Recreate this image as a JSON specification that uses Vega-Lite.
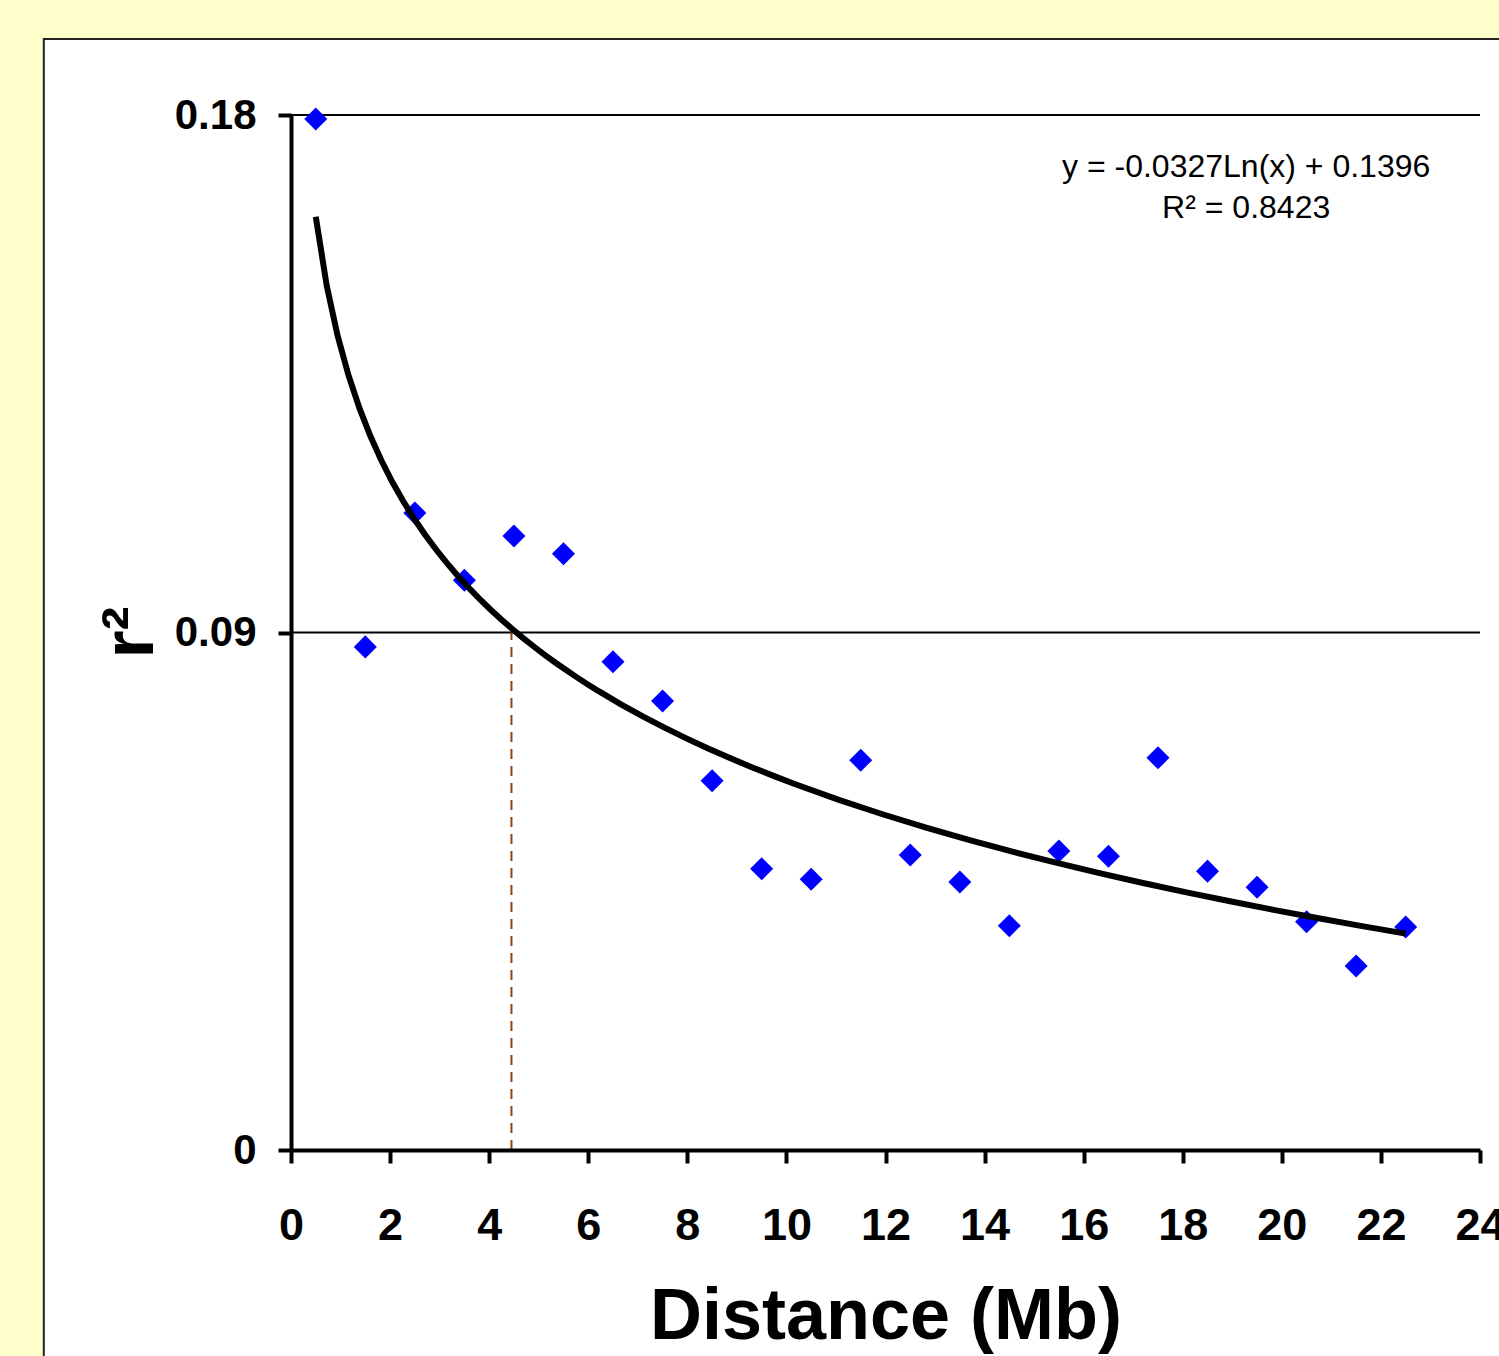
{
  "$schema": "https://vega.github.io/schema/vega-lite/v6.json",
  "autosize": {"type": "none"},
  "width": 1189,
  "height": 1035,
  "padding": {"left": 291, "top": 115, "right": 19, "bottom": 206},
  "background": "#FFFFCC",
  "config": {
    "view": {"stroke": null},
    "font": "Liberation Sans",
    "axis": {
      "grid": false,
      "domainColor": "black", "domainWidth": 4,
      "tickColor": "black", "tickWidth": 4, "tickSize": 13,
      "labelFont": "Liberation Sans", "labelFontWeight": "bold", "labelColor": "black",
      "labelFlush": false, "labelOverlap": false,
      "titleFont": "Liberation Sans", "titleFontWeight": "bold", "titleColor": "black"
    },
    "axisX": {
      "labelFontSize": 45, "labelPadding": 40,
      "titleFontSize": 72, "titleBaseline": "alphabetic", "titleY": 188
    },
    "axisY": {
      "labelFontSize": 42, "labelPadding": 22,
      "titleFontSize": 72, "titleAngle": -90, "titleAlign": "center", "titleBaseline": "alphabetic",
      "titleX": -139, "titleY": 517
    }
  },
  "datasets": {
    "pts": [
      {"dist": 0.5, "r2": 0.1793},
      {"dist": 1.5, "r2": 0.0875},
      {"dist": 2.5, "r2": 0.1108},
      {"dist": 3.5, "r2": 0.0991},
      {"dist": 4.5, "r2": 0.1068},
      {"dist": 5.5, "r2": 0.1037},
      {"dist": 6.5, "r2": 0.0849},
      {"dist": 7.5, "r2": 0.0781},
      {"dist": 8.5, "r2": 0.0642},
      {"dist": 9.5, "r2": 0.0489},
      {"dist": 10.5, "r2": 0.0471},
      {"dist": 11.5, "r2": 0.0678},
      {"dist": 12.5, "r2": 0.0513},
      {"dist": 13.5, "r2": 0.0466},
      {"dist": 14.5, "r2": 0.0390},
      {"dist": 15.5, "r2": 0.0520},
      {"dist": 16.5, "r2": 0.0511},
      {"dist": 17.5, "r2": 0.0682},
      {"dist": 18.5, "r2": 0.0485},
      {"dist": 19.5, "r2": 0.0457},
      {"dist": 20.5, "r2": 0.0397},
      {"dist": 21.5, "r2": 0.0320},
      {"dist": 22.5, "r2": 0.0388}
    ],
    "grid": [{"g": 0.09}, {"g": 0.18}],
    "cut": [{"d": 4.45, "lo": 0, "hi": 0.09}],
    "one": [{}]
  },
  "layer": [
    {
      "data": {"name": "one"},
      "mark": {"type": "rect", "fill": "white", "stroke": "#222222", "strokeWidth": 2},
      "encoding": {
        "x": {"datum": -4.99, "type": "quantitative", "title": "Distance (Mb)", "scale": {"domain": [0, 24], "nice": false, "zero": false}, "axis": {"values": [0, 2, 4, 6, 8, 10, 12, 14, 16, 18, 20, 22, 24], "zindex": 1}},
        "x2": {"datum": 27},
        "y": {"datum": 0.1932, "type": "quantitative", "title": "r²", "scale": {"domain": [0, 0.18], "nice": false, "zero": false}, "axis": {"values": [0, 0.09, 0.18], "format": "~g", "zindex": 1}},
        "y2": {"datum": -0.06}
      }
    },
    {
      "data": {"name": "grid"},
      "mark": {"type": "rule", "color": "black", "strokeWidth": 2},
      "encoding": {
        "y": {"field": "g", "type": "quantitative", "title": "r²", "scale": {"domain": [0, 0.18], "nice": false, "zero": false}, "axis": {"values": [0, 0.09, 0.18], "format": "~g", "zindex": 1}}
      }
    },
    {
      "data": {"name": "cut"},
      "mark": {"type": "rule", "color": "#8B4513", "strokeWidth": 2, "strokeDash": [10, 7]},
      "encoding": {
        "x": {"field": "d", "type": "quantitative", "title": "Distance (Mb)", "scale": {"domain": [0, 24], "nice": false, "zero": false}, "axis": {"values": [0, 2, 4, 6, 8, 10, 12, 14, 16, 18, 20, 22, 24], "zindex": 1}},
        "y": {"field": "lo", "type": "quantitative", "title": "r²", "scale": {"domain": [0, 0.18], "nice": false, "zero": false}, "axis": {"values": [0, 0.09, 0.18], "format": "~g", "zindex": 1}},
        "y2": {"field": "hi"}
      }
    },
    {
      "data": {"name": "pts"},
      "mark": {"type": "point", "shape": "diamond", "filled": true, "color": "#0000FF", "size": 530, "opacity": 1},
      "encoding": {
        "x": {"field": "dist", "type": "quantitative", "title": "Distance (Mb)", "scale": {"domain": [0, 24], "nice": false, "zero": false}, "axis": {"values": [0, 2, 4, 6, 8, 10, 12, 14, 16, 18, 20, 22, 24], "zindex": 1}},
        "y": {"field": "r2", "type": "quantitative", "title": "r²", "scale": {"domain": [0, 0.18], "nice": false, "zero": false}, "axis": {"values": [0, 0.09, 0.18], "format": "~g", "zindex": 1}}
      }
    },
    {
      "data": {"name": "pts"},
      "transform": [{"regression": "r2", "on": "dist", "method": "log", "extent": [0.5, 22.5]}],
      "mark": {"type": "line", "color": "black", "strokeWidth": 6},
      "encoding": {
        "x": {"field": "dist", "type": "quantitative", "title": "Distance (Mb)", "scale": {"domain": [0, 24], "nice": false, "zero": false}, "axis": {"values": [0, 2, 4, 6, 8, 10, 12, 14, 16, 18, 20, 22, 24], "zindex": 1}},
        "y": {"field": "r2", "type": "quantitative", "title": "r²", "scale": {"domain": [0, 0.18], "nice": false, "zero": false}, "axis": {"values": [0, 0.09, 0.18], "format": "~g", "zindex": 1}}
      }
    },
    {
      "data": {"name": "one"},
      "mark": {"type": "text", "font": "Liberation Sans", "fontSize": 32, "color": "black", "align": "center", "baseline": "alphabetic", "lineHeight": 41},
      "encoding": {
        "x": {"datum": 19.28, "type": "quantitative", "title": "Distance (Mb)", "scale": {"domain": [0, 24], "nice": false, "zero": false}, "axis": {"values": [0, 2, 4, 6, 8, 10, 12, 14, 16, 18, 20, 22, 24], "zindex": 1}},
        "y": {"datum": 0.1692, "type": "quantitative", "title": "r²", "scale": {"domain": [0, 0.18], "nice": false, "zero": false}, "axis": {"values": [0, 0.09, 0.18], "format": "~g", "zindex": 1}},
        "text": {"value": ["y = -0.0327Ln(x) + 0.1396", "R² = 0.8423"]}
      }
    }
  ]
}
